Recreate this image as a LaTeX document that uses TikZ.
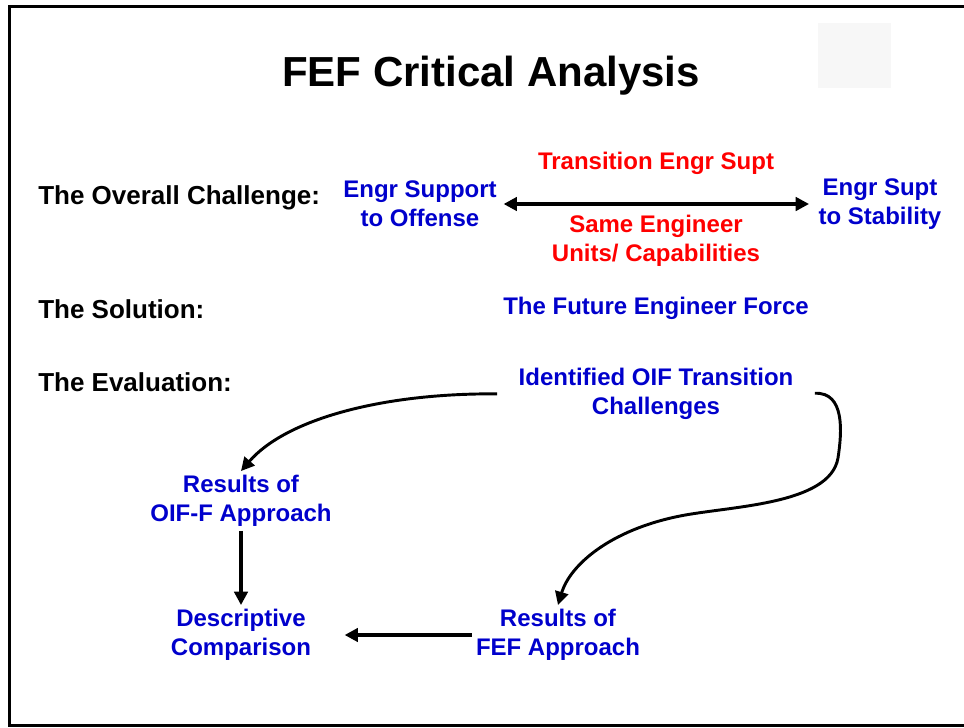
\documentclass[tikz,border=0pt]{standalone}
\usepackage{fontspec}
\setmainfont{Liberation Sans}
\usepackage{xcolor}
\usepackage{tikz}
\usetikzlibrary{positioning, arrows.meta}
\definecolor{slideblue}{HTML}{0000CC}
\definecolor{slidered}{HTML}{FF0000}
\definecolor{faintgray}{HTML}{F7F7F7}
\tikzstyle{flow} = [draw, -{Triangle[length=10pt, width=10pt]}, line width=2.2pt]
\tikzstyle{straightflow} = [flow, line width=3pt]
\tikzstyle{heading} = [anchor=west, inner sep=0pt, font=\fontsize{19.5}{23}\selectfont\bfseries]
\tikzstyle{bluetext} = [text=slideblue, align=center, inner sep=3pt,
    font=\fontsize{18}{21.75}\selectfont\bfseries]
\tikzstyle{redtext} = [bluetext, text=slidered]

\begin{document}
\begin{tikzpicture}[x=0.75pt, y=-0.75pt]
      \useasboundingbox (0,0) rectangle (964,728);
      % Slide frame
      \draw[line width=2.25pt] (964,6) -- (9,6) -- (9,725) -- (964,725);
      \fill[faintgray] (818,23) rectangle (891,88);

      % Place nodes
      \node [font=\fontsize{31.5}{36}\selectfont\bfseries] (title) at (491,76) {FEF Critical Analysis};
      \node [heading] (challenge) at (38,198) {The Overall Challenge:};
      \node [heading] (solution) at (38,309) {The Solution:};
      \node [heading] (evaluation) at (38,382) {The Evaluation:};

      \node [bluetext] (offense) at (420,204) {Engr Support\\to Offense};
      \node [bluetext] (stability) at (880,204) {Engr Supt\\to Stability};
      \node [redtext] (transition) at (656,163) {Transition Engr Supt};
      \node [redtext] (same) at (656,241) {Same Engineer\\Units/ Capabilities};
      \path [straightflow, {Triangle[length=10pt, width=10pt]}-{Triangle[length=10pt, width=10pt]}, shorten >=4pt, shorten <=2pt] (offense.east) -- (stability.west);

      \node [bluetext] (force) at (656,308) {The Future Engineer Force};

      \node [bluetext] (identified) at (656,394) {Identified OIF Transition\\Challenges};
      \node [bluetext] (oiff) at (241,501) {Results of\\OIF-F Approach};
      \node [bluetext] (descriptive) at (241,635) {Descriptive\\Comparison};
      \node [bluetext] (fef) at (558,635) {Results of\\FEF Approach};

      \path [flow, shorten <=13pt] (identified.west) .. controls (380,393) and (285,420) .. (oiff.north);
      \path [flow, shorten <=13pt] (identified.east) .. controls (845,392) and (842,432) .. (838,458)
            .. controls (830,505) and (730,506) .. (680,516)
            .. controls (610,530) and (570,565) .. (fef.north);
      \path [straightflow] (oiff.south) -- (descriptive.north);
      \path [straightflow, shorten >=22pt] (fef.west) -- (descriptive.east);
    \end{tikzpicture}
\end{document}
